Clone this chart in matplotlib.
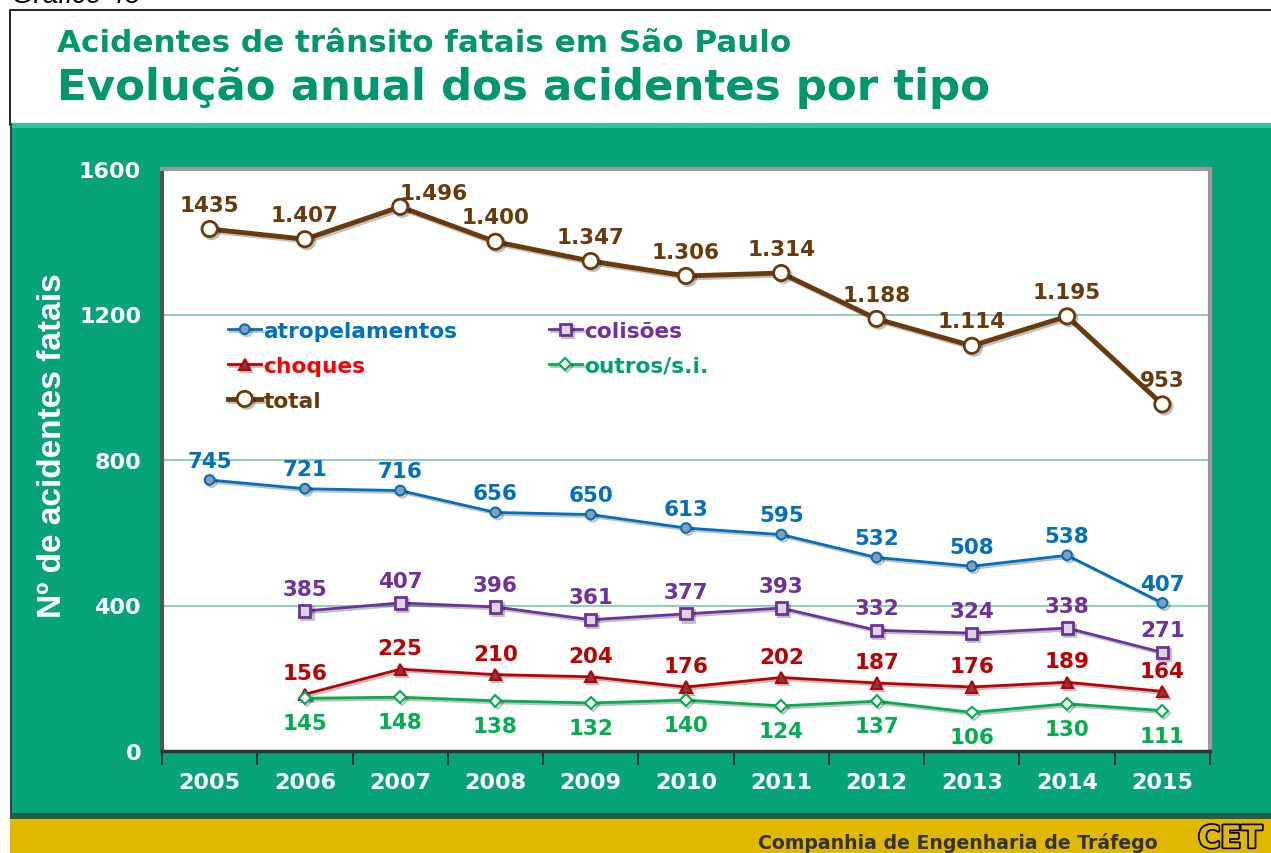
import matplotlib
matplotlib.use("Agg")
import matplotlib.pyplot as plt
import matplotlib.patheffects as pe
from matplotlib.patches import Rectangle

# series (None = no data for that year)
anos = ["2005", "2006", "2007", "2008", "2009", "2010", "2011", "2012", "2013", "2014", "2015"]
total = [1435, 1407, 1496, 1400, 1347, 1306, 1314, 1188, 1114, 1195, 953]
total_txt = ["1435", "1.407", "1.496", "1.400", "1.347", "1.306", "1.314", "1.188", "1.114", "1.195", "953"]
atropelamentos = [745, 721, 716, 656, 650, 613, 595, 532, 508, 538, 407]
colisoes = [None, 385, 407, 396, 361, 377, 393, 332, 324, 338, 271]
choques = [None, 156, 225, 210, 204, 176, 202, 187, 176, 189, 164]
outros = [None, 145, 148, 138, 132, 140, 124, 137, 106, 130, 111]
yticks = [0, 400, 800, 1200, 1600]

VERDE = "#07a47c"
TITULO = "#00966e"
AMARELO = "#e1b800"
MARROM = "#6b3a0b"
AZUL = "#0070c0"
ROXO = "#7030a0"
VERMELHO = "#c00000"
VERDE2 = "#00b050"

W, H = 1271, 854
fig = plt.figure(figsize=(W / 100, H / 100), dpi=100)
fig.patch.set_facecolor("white")

def box(x0, y0, x1, y1, **kw):
    # rectangle in pixel coords (y from top), kept behind the axes
    fig.patches.append(Rectangle((x0 / W, 1 - y1 / H), (x1 - x0) / W, (y1 - y0) / H,
                                 transform=fig.transFigure, zorder=-10, **kw))

# header box, green panel, yellow footer
box(10, 11, W + 5, 126, facecolor="white", edgecolor="black", lw=1.2)
box(10, 124, W + 5, 818, facecolor=VERDE, edgecolor="none")
box(10, 124, W + 5, 129, facecolor="#2cc49c", edgecolor="none")
box(10, 124, 12, 818, facecolor="#1d4d40", edgecolor="none")
box(10, 814, W + 5, 820, facecolor="#215e4c", edgecolor="none")
box(10, 820, W + 5, H + 5, facecolor=AMARELO, edgecolor="none")

fig.text(12 / W, 1 - 3 / H, "Gráfico 43", fontsize=20, style="italic", color="black",
         family="Liberation Sans", va="baseline", ha="left")
fig.text(57 / W, 1 - 43 / H, "Acidentes de trânsito fatais em São Paulo", fontsize=22.3,
         fontweight="bold", color=TITULO, va="center", ha="left", family="DejaVu Sans")
fig.text(57 / W, 1 - 88 / H, "Evolução anual dos acidentes por tipo", fontsize=31.3,
         fontweight="bold", color=TITULO, va="center", ha="left", family="DejaVu Sans")
fig.text(1158 / W, 1 - 843 / H, "Companhia de Engenharia de Tráfego", fontsize=13.6,
         fontweight="bold", color="#333333", va="center", ha="right", family="DejaVu Sans")
fig.text(1230 / W, 1 - 840 / H, "CET", fontsize=22, fontweight="bold", color=AMARELO,
         va="center", ha="center", family="DejaVu Sans",
         path_effects=[pe.withStroke(linewidth=2.5, foreground="black")])

ax = fig.add_axes([162 / W, 1 - 752 / H, (1210 - 162) / W, (752 - 170) / H])
ax.set_facecolor("white")
ax.set_xlim(-0.5, 10.5)
ax.set_ylim(0, 1600)

x = list(range(len(anos)))
shadow = [pe.SimpleLineShadow(offset=(1.5, -1.5), alpha=0.25), pe.Normal()]

def serie(vals, color, lw, marker, ms, mfc, mew):
    xs = [i for i, v in zip(x, vals) if v is not None]
    ys = [v for v in vals if v is not None]
    ln, = ax.plot(xs, ys, color=color, lw=lw, marker=marker, ms=ms, mfc=mfc,
                  mec=color, mew=mew, zorder=3, path_effects=shadow)
    return xs, ys, ln

def rotulos(xs, ys, txts, color, dy, ajuste=None):
    # value labels; ajuste = {index: (dx, dy)} for labels placed off-centre
    for i, (xi, yi, t) in enumerate(zip(xs, ys, txts)):
        off = ajuste.get(i, (0, dy)) if ajuste else (0, dy)
        ax.annotate(t, (xi, yi), xytext=off, textcoords="offset points",
                    ha="center", va="center", fontsize=15.5, fontweight="bold",
                    color=color, zorder=4)

for g in yticks[1:-1]:
    ax.axhline(g, color="#6cc3a6", lw=1.1, zorder=1)

xs, ys, l_tot = serie(total, MARROM, 3.5, "o", 11, "white", 2)
rotulos(xs, ys, total_txt, MARROM, 17.5, ajuste={2: (24, 10)})
xs, ys, l_atr = serie(atropelamentos, AZUL, 2, "o", 7, "#8a9db0", 1.5)
rotulos(xs, ys, [str(v) for v in ys], AZUL, 14)
xs, ys, l_col = serie(colisoes, ROXO, 2, "s", 8, "#d8d8d8", 2)
rotulos(xs, ys, [str(v) for v in ys], ROXO, 16)
xs, ys, l_cho = serie(choques, VERMELHO, 2, "^", 8, "#7a4040", 1.5)
rotulos(xs, ys, [str(v) for v in ys], VERMELHO, 15)
xs, ys, l_out = serie(outros, VERDE2, 2, "D", 6, "white", 1.5)
rotulos(xs, ys, [str(v) for v in ys], VERDE2, -18)

# legend
leg = ax.legend([l_atr, l_cho, l_tot, l_col, l_out],
                ["atropelamentos", "choques", "total", "colisões", "outros/s.i."],
                ncol=2, loc="upper left", bbox_to_anchor=(0.055, 0.754), frameon=False,
                prop={"weight": "bold", "size": 15.7}, handlelength=1.5, handletextpad=0.1,
                columnspacing=4.2, labelspacing=0.68, borderaxespad=0)
for txt, c in zip(leg.get_texts(), [AZUL, "#ff0000", MARROM, ROXO, "#00a070"]):
    txt.set_color(c)

# axes frame
for s in ["left", "top", "right"]:
    ax.spines[s].set_color("#9a9a9a")
    ax.spines[s].set_linewidth(3)
ax.spines["bottom"].set_color("#333333")
ax.spines["bottom"].set_linewidth(2.5)
ax.spines["left"].set_color("#555555")

ax.set_xticks(x)
ax.set_xticklabels(anos)
ax.set_xticks([i + 0.5 for i in range(-1, len(anos))], minor=True)
ax.tick_params(axis="x", which="major", length=0, pad=15, labelsize=16,
               labelcolor="white")
ax.tick_params(axis="x", which="minor", length=10, width=1.2, color="#222222",
               direction="out")
ax.set_yticks(yticks)
ax.tick_params(axis="y", length=0, pad=15, labelsize=16, labelcolor="white")
for lab in ax.get_xticklabels() + ax.get_yticklabels():
    lab.set_fontweight("bold")

fig.text(53 / W, 1 - 446 / H, "Nº de acidentes fatais", rotation=90, fontsize=24,
         fontweight="bold", color="white", family="Liberation Sans",
         ha="center", va="center")

fig.savefig("out.png", dpi=100)
